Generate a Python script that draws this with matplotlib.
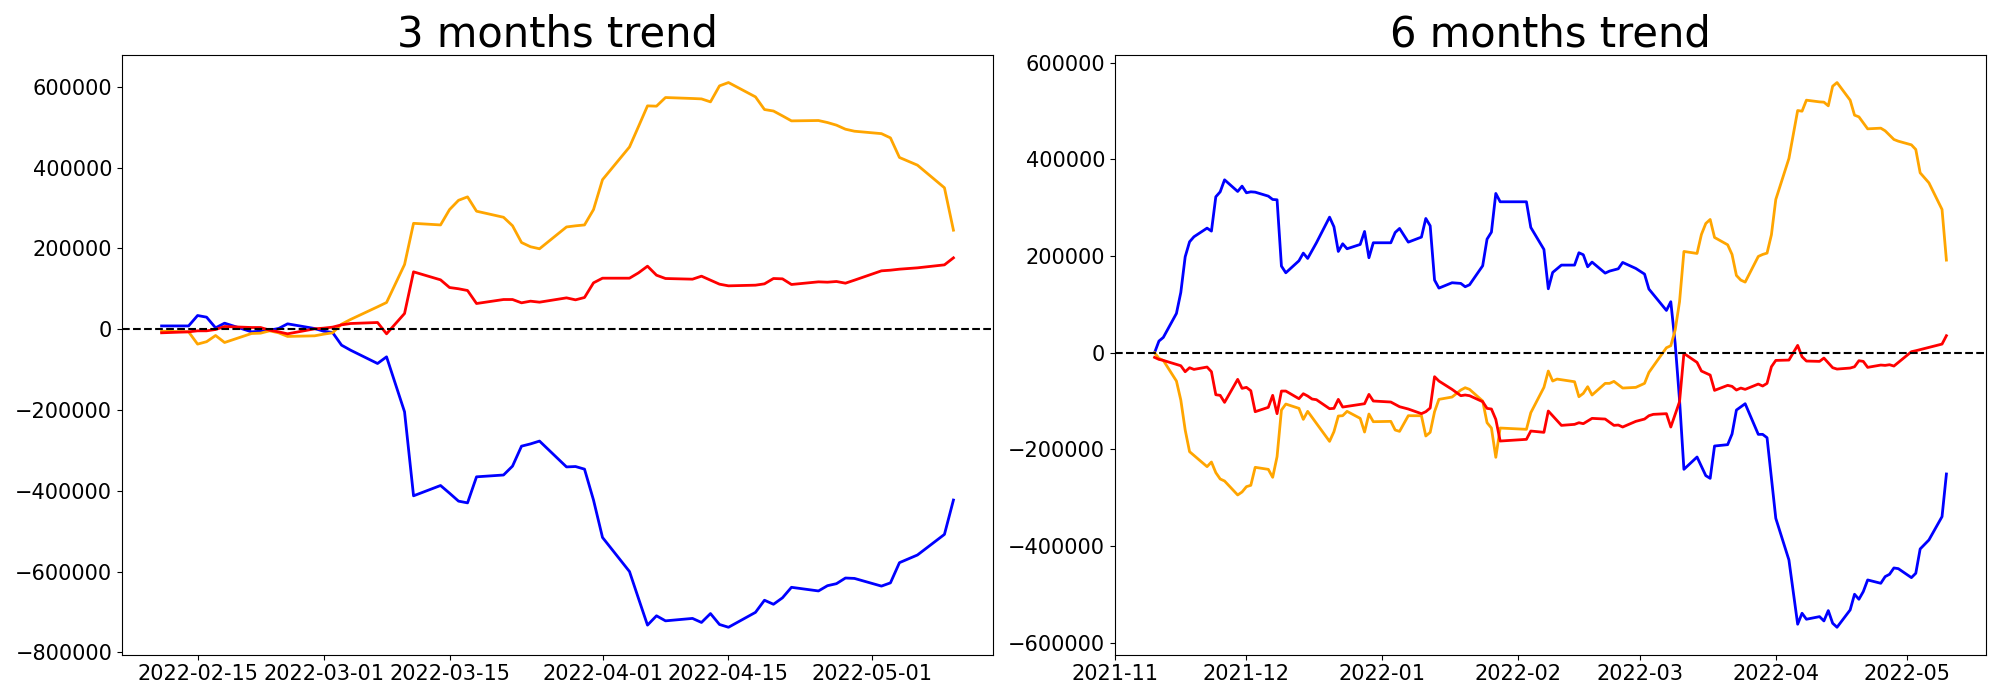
import matplotlib
matplotlib.use('Agg')
import matplotlib.pyplot as plt
import matplotlib.dates as mdates
import pandas as pd

# ---- 3 months window ----
m3_dates = ['2022-02-11', '2022-02-14', '2022-02-15', '2022-02-16', '2022-02-17', '2022-02-18',
            '2022-02-21', '2022-02-22', '2022-02-23', '2022-02-24', '2022-02-25', '2022-02-28',
            '2022-03-01', '2022-03-02', '2022-03-03', '2022-03-04', '2022-03-07', '2022-03-08',
            '2022-03-10', '2022-03-11', '2022-03-14', '2022-03-15', '2022-03-16', '2022-03-17',
            '2022-03-18', '2022-03-21', '2022-03-22', '2022-03-23', '2022-03-24', '2022-03-25',
            '2022-03-28', '2022-03-29', '2022-03-30', '2022-03-31', '2022-04-01', '2022-04-04',
            '2022-04-05', '2022-04-06', '2022-04-07', '2022-04-08', '2022-04-11', '2022-04-12',
            '2022-04-13', '2022-04-14', '2022-04-15', '2022-04-18', '2022-04-19', '2022-04-20',
            '2022-04-21', '2022-04-22', '2022-04-25', '2022-04-26', '2022-04-27', '2022-04-28',
            '2022-04-29', '2022-05-02', '2022-05-03', '2022-05-04', '2022-05-06', '2022-05-09',
            '2022-05-10']
m3_blue = [8000, 8000, 33800, 29700, 3300, 14850, -6600, -5000, -2500, 1650, 13200, 1650,
           -5000, -8250, -39600, -52000, -85000, -68500, -204600, -412500, -387000, -406000,
           -425700, -430000, -365500, -361000, -339000, -289600, -284000, -277000, -341000,
           -340000, -346500, -423000, -515600, -600000, -666600, -732600, -709500, -722000,
           -716000, -726000, -704000, -731000, -737900, -701000, -671000, -681000, -665000,
           -639000, -648000, -635000, -630000, -616000, -617000, -636000, -628000, -578000,
           -559000, -508000, -423000]
m3_red = [-9000, -6600, -4100, -4100, -800, 6600, 4100, 4100, -2500, -6600, -11500, 800,
          2500, 5000, 10700, 14000, 16500, -11500, 38800, 141900, 122100, 103100, 100000,
          95700, 63500, 73400, 73400, 65200, 69300, 66800, 77500, 72600, 78400, 114700,
          126200, 126200, 139400, 155900, 133600, 125400, 123750, 131200, 121300, 111400,
          107250, 108900, 112200, 125400, 124600, 110600, 117150, 116300, 118000, 113850,
          121300, 144400, 146000, 148500, 151800, 159200, 176550]
m3_orange = [-5000, -6600, -37000, -31000, -15700, -33000, -10700, -9900, -4100, -9000,
             -18000, -16500, -12400, -9000, 12400, 24000, 55300, 66000, 160000, 262000,
             258000, 296000, 319000, 327500, 292000, 277000, 256000, 214500, 204000, 199000,
             253000, 255800, 258000, 296000, 370000, 451000, 501600, 552750, 552000, 573400,
             571000, 570000, 562650, 602250, 610500, 575000, 543700, 540000, 528000, 515600,
             516500, 511500, 505000, 495000, 490000, 484000, 473500, 425000, 406000, 350000,
             245000]

# ---- 6 months window ----
m6_blue_dates = ['2021-11-10', '2021-11-11', '2021-11-12', '2021-11-15', '2021-11-16', '2021-11-17',
                 '2021-11-18', '2021-11-19', '2021-11-22', '2021-11-23', '2021-11-24', '2021-11-25',
                 '2021-11-26', '2021-11-29', '2021-11-30', '2021-12-01', '2021-12-02', '2021-12-03',
                 '2021-12-06', '2021-12-07', '2021-12-08', '2021-12-09', '2021-12-10', '2021-12-13',
                 '2021-12-14', '2021-12-15', '2021-12-17', '2021-12-20', '2021-12-21', '2021-12-22',
                 '2021-12-23', '2021-12-24', '2021-12-27', '2021-12-28', '2021-12-29', '2021-12-30',
                 '2022-01-03', '2022-01-04', '2022-01-05', '2022-01-07', '2022-01-10', '2022-01-11',
                 '2022-01-12', '2022-01-13', '2022-01-14', '2022-01-17', '2022-01-19', '2022-01-20',
                 '2022-01-21', '2022-01-24', '2022-01-25', '2022-01-26', '2022-01-27', '2022-01-28',
                 '2022-02-03', '2022-02-04', '2022-02-07', '2022-02-08', '2022-02-09', '2022-02-11',
                 '2022-02-14', '2022-02-15', '2022-02-16', '2022-02-17', '2022-02-18', '2022-02-21',
                 '2022-02-22', '2022-02-24', '2022-02-25', '2022-02-28', '2022-03-02', '2022-03-03',
                 '2022-03-07', '2022-03-08', '2022-03-09', '2022-03-10', '2022-03-11', '2022-03-14',
                 '2022-03-16', '2022-03-17', '2022-03-18', '2022-03-21', '2022-03-22', '2022-03-23',
                 '2022-03-25', '2022-03-28', '2022-03-29', '2022-03-30', '2022-04-01', '2022-04-04',
                 '2022-04-06', '2022-04-07', '2022-04-08', '2022-04-11', '2022-04-12', '2022-04-13',
                 '2022-04-14', '2022-04-15', '2022-04-18', '2022-04-19', '2022-04-20', '2022-04-21',
                 '2022-04-22', '2022-04-25', '2022-04-26', '2022-04-27', '2022-04-28', '2022-04-29',
                 '2022-05-02', '2022-05-03', '2022-05-04', '2022-05-06', '2022-05-09', '2022-05-10']
m6_blue = [0, 24100, 31700, 81300, 124800, 198500, 229500, 239900, 257800, 251600, 322600, 332900,
           357700, 333600, 344650, 330900, 332900, 332200, 324000, 317100, 316400, 179200, 165400,
           190200, 206100, 195100, 227500, 280500, 260600, 209500, 225400, 215100, 224000, 250900,
           196500, 227500, 227500, 248800, 257100, 228800, 239200, 277800, 262600, 150300, 133700,
           144800, 143400, 136500, 140600, 179900, 235000, 249500, 329500, 312300, 312300, 259200,
           213700, 132300, 166100, 181300, 181300, 206800, 202700, 177800, 187500, 164700, 168900,
           173700, 186800, 174400, 162700, 131700, 87500, 105500, 19300, -97900, -241250, -215750,
           -254350, -259900, -193000, -190200, -168200, -118600, -105500, -168900, -168900,
           -175800, -342600, -428700, -561700, -539000, -551400, -546000, -554900, -533500,
           -559700, -568000, -532100, -499700, -510100, -494200, -470100, -477000, -463200,
           -458400, -445300, -446700, -465300, -456300, -406000, -387400, -339100, -250900]

m6_red_dates = ['2021-11-10', '2021-11-11', '2021-11-12', '2021-11-16', '2021-11-17', '2021-11-18',
                '2021-11-19', '2021-11-22', '2021-11-23', '2021-11-24', '2021-11-25', '2021-11-26',
                '2021-11-29', '2021-11-30', '2021-12-01', '2021-12-02', '2021-12-03', '2021-12-06',
                '2021-12-07', '2021-12-08', '2021-12-09', '2021-12-10', '2021-12-13', '2021-12-14',
                '2021-12-15', '2021-12-16', '2021-12-17', '2021-12-20', '2021-12-21', '2021-12-22',
                '2021-12-23', '2021-12-28', '2021-12-29', '2021-12-30', '2022-01-03', '2022-01-05',
                '2022-01-07', '2022-01-10', '2022-01-11', '2022-01-12', '2022-01-13', '2022-01-14',
                '2022-01-17', '2022-01-19', '2022-01-20', '2022-01-21', '2022-01-24', '2022-01-25',
                '2022-01-26', '2022-01-27', '2022-01-28', '2022-02-03', '2022-02-04', '2022-02-07',
                '2022-02-08', '2022-02-11', '2022-02-14', '2022-02-15', '2022-02-16', '2022-02-18',
                '2022-02-21', '2022-02-23', '2022-02-24', '2022-02-25', '2022-02-28', '2022-03-02',
                '2022-03-03', '2022-03-04', '2022-03-07', '2022-03-08', '2022-03-10', '2022-03-11',
                '2022-03-14', '2022-03-15', '2022-03-17', '2022-03-18', '2022-03-21', '2022-03-22',
                '2022-03-23', '2022-03-24', '2022-03-25', '2022-03-28', '2022-03-29', '2022-03-30',
                '2022-03-31', '2022-04-01', '2022-04-04', '2022-04-06', '2022-04-07', '2022-04-08',
                '2022-04-11', '2022-04-12', '2022-04-14', '2022-04-15', '2022-04-18', '2022-04-19',
                '2022-04-20', '2022-04-21', '2022-04-22', '2022-04-25', '2022-04-26', '2022-04-27',
                '2022-04-28', '2022-05-02', '2022-05-03', '2022-05-09', '2022-05-10']
m6_red = [-9650, -13800, -15900, -26900, -39300, -31000, -34500, -29600, -39300, -86900, -88200,
          -102700, -55100, -73700, -71700, -78600, -122000, -113000, -88200, -126100, -79300,
          -79300, -95100, -84800, -89600, -95800, -97200, -115800, -115100, -96500, -112400,
          -105500, -86200, -99900, -102000, -111700, -116500, -126100, -122000, -114400, -49600,
          -58600, -75800, -88900, -87500, -88900, -101300, -115100, -116500, -137900, -182700,
          -179200, -162000, -164700, -120600, -150300, -148200, -144800, -146800, -135800,
          -137200, -150300, -149600, -153700, -142000, -137200, -130300, -127500, -126100,
          -153700, -101300, -1400, -20000, -37900, -46200, -77900, -67500, -69600, -77200,
          -73100, -75800, -64800, -68900, -63400, -29000, -15900, -15200, 15200, -8300, -17200,
          -17900, -11000, -31000, -33800, -31700, -29000, -16500, -17900, -30300, -25500,
          -26200, -24800, -27600, 2100, 4100, 17900, 35200]

m6_orange_dates = ['2021-11-10', '2021-11-11', '2021-11-12', '2021-11-15', '2021-11-16', '2021-11-17',
                   '2021-11-18', '2021-11-22', '2021-11-23', '2021-11-24', '2021-11-25', '2021-11-26',
                   '2021-11-29', '2021-11-30', '2021-12-01', '2021-12-02', '2021-12-03', '2021-12-06',
                   '2021-12-07', '2021-12-08', '2021-12-09', '2021-12-10', '2021-12-13', '2021-12-14',
                   '2021-12-15', '2021-12-20', '2021-12-21', '2021-12-22', '2021-12-23', '2021-12-24',
                   '2021-12-27', '2021-12-28', '2021-12-29', '2021-12-30', '2022-01-03', '2022-01-04',
                   '2022-01-05', '2022-01-07', '2022-01-10', '2022-01-11', '2022-01-12', '2022-01-13',
                   '2022-01-14', '2022-01-17', '2022-01-19', '2022-01-20', '2022-01-21', '2022-01-24',
                   '2022-01-25', '2022-01-26', '2022-01-27', '2022-01-28', '2022-02-03', '2022-02-04',
                   '2022-02-07', '2022-02-08', '2022-02-09', '2022-02-10', '2022-02-14', '2022-02-15',
                   '2022-02-16', '2022-02-17', '2022-02-18', '2022-02-21', '2022-02-22', '2022-02-23',
                   '2022-02-25', '2022-02-28', '2022-03-02', '2022-03-03', '2022-03-07', '2022-03-08',
                   '2022-03-09', '2022-03-10', '2022-03-11', '2022-03-14', '2022-03-15', '2022-03-16',
                   '2022-03-17', '2022-03-18', '2022-03-21', '2022-03-22', '2022-03-23', '2022-03-24',
                   '2022-03-25', '2022-03-28', '2022-03-29', '2022-03-30', '2022-03-31', '2022-04-01',
                   '2022-04-04', '2022-04-06', '2022-04-07', '2022-04-08', '2022-04-11', '2022-04-12',
                   '2022-04-13', '2022-04-14', '2022-04-15', '2022-04-18', '2022-04-19', '2022-04-20',
                   '2022-04-22', '2022-04-25', '2022-04-26', '2022-04-28', '2022-04-29', '2022-05-02',
                   '2022-05-03', '2022-05-04', '2022-05-06', '2022-05-09', '2022-05-10']
m6_orange = [0, -11700, -15900, -58600, -97900, -159900, -204700, -235700, -226100, -248100,
             -261200, -265400, -294300, -288100, -277100, -274300, -237100, -241300, -257800,
             -215100, -118600, -106200, -115100, -137900, -121300, -183400, -163400, -131000,
             -130300, -121300, -135800, -164100, -126800, -142700, -142000, -159900, -162700,
             -130300, -130300, -172300, -164700, -122000, -96500, -91700, -77200, -72400, -75800,
             -99900, -144800, -155800, -216400, -155800, -158500, -124100, -71700, -37900,
             -58600, -54500, -60000, -91000, -84100, -70300, -87500, -63400, -63400, -59300,
             -73100, -71700, -63400, -40700, 10300, 14500, 46900, 105500, 209500, 205400,
             244700, 267400, 275700, 238500, 223300, 203300, 159900, 150300, 146100, 199200,
             203300, 206100, 244000, 317100, 401900, 501100, 499700, 522500, 519000, 518400,
             510800, 551400, 559000, 522500, 491500, 488000, 463200, 464600, 459100, 441200,
             437700, 430100, 420500, 372200, 351500, 296400, 191600]

fig, (ax1, ax2) = plt.subplots(1, 2, figsize=(20, 7), dpi=100)
fig.subplots_adjust(left=0.061, right=0.993, bottom=0.065, top=0.921, wspace=0.14)

d3 = pd.to_datetime(m3_dates)
ax1.plot(d3, m3_blue, color='blue', linewidth=2)
ax1.plot(d3, m3_orange, color='orange', linewidth=2)
ax1.plot(d3, m3_red, color='red', linewidth=2)
ax1.axhline(0, color='black', linestyle='--', linewidth=1.5)
ax1.set_title('3 months trend', fontsize=30)
ax1.xaxis.set_major_locator(mdates.DayLocator(bymonthday=[1, 15]))
ax1.xaxis.set_major_formatter(mdates.DateFormatter('%Y-%m-%d'))
ax1.tick_params(labelsize=15)

ax2.plot(pd.to_datetime(m6_blue_dates), m6_blue, color='blue', linewidth=2)
ax2.plot(pd.to_datetime(m6_orange_dates), m6_orange, color='orange', linewidth=2)
ax2.plot(pd.to_datetime(m6_red_dates), m6_red, color='red', linewidth=2)
ax2.axhline(0, color='black', linestyle='--', linewidth=1.5)
ax2.set_title('6 months trend', fontsize=30)
ax2.xaxis.set_major_locator(mdates.MonthLocator())
ax2.xaxis.set_major_formatter(mdates.DateFormatter('%Y-%m'))
ax2.tick_params(labelsize=15)

plt.savefig('out.png')
